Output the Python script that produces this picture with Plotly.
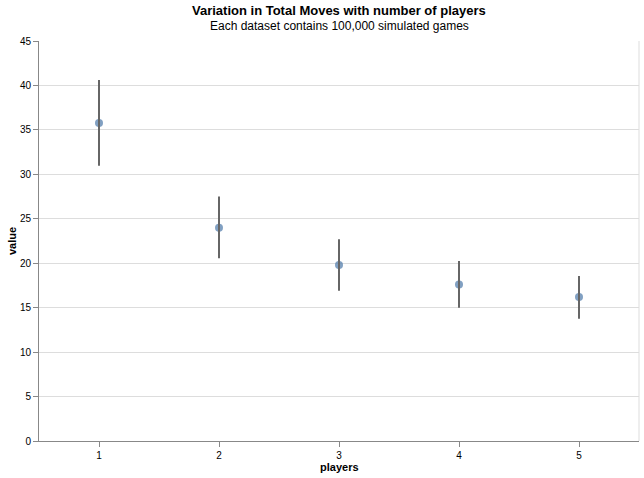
import plotly.graph_objects as go

players = [1, 2, 3, 4, 5]
mean_moves = [35.78, 24.0, 19.8, 17.6, 16.2]
upper = [40.6, 27.5, 22.7, 20.25, 18.55]
lower = [30.97, 20.55, 16.9, 15.0, 13.75]
y_ticks = [0, 5, 10, 15, 20, 25, 30, 35, 40, 45]

err_plus = [u - m for u, m in zip(upper, mean_moves)]
err_minus = [m - l for m, l in zip(mean_moves, lower)]

FONT = "Liberation Sans, Arial, Helvetica, sans-serif"
W, H = 644, 478
# plot area in page pixels: x 39..639, y 41..441
L, R, T, B = 39, 644 - 639, 41, 478 - 441
PW, PH = W - L - R, H - T - B


def px_x(p):
    return (p - L) / PW


def px_y(q):
    return (H - B - q) / PH


fig = go.Figure()
fig.add_trace(go.Scatter(
    x=players, y=mean_moves, mode="markers",
    marker=dict(color="#4c78a8", opacity=0.7, size=8, line=dict(width=0)),
    showlegend=False, hoverinfo="x+y",
))
fig.add_trace(go.Scatter(
    x=players, y=mean_moves, mode="markers",
    marker=dict(opacity=0, size=1),
    error_y=dict(type="data", symmetric=False, array=err_plus, arrayminus=err_minus,
                 width=0, thickness=2, color="#666"),
    showlegend=False, hoverinfo="skip",
))

annotations = [
    dict(text="<b>Variation in Total Moves with number of players</b>",
         x=0.5, y=px_y(10), font=dict(size=13, color="#000")),
    dict(text="Each dataset contains 100,000 simulated games",
         x=0.5, y=px_y(26), font=dict(size=12, color="#000")),
    dict(text="<b>players</b>", x=0.5, y=px_y(467), font=dict(size=11, color="#000")),
    dict(text="<b>value</b>", x=px_x(12), y=px_y(241), textangle=-90,
         font=dict(size=11, color="#000")),
]
for a in annotations:
    a.update(xref="paper", yref="paper", xanchor="center", yanchor="middle",
             showarrow=False)

fig.update_layout(
    width=W, height=H,
    margin=dict(l=L, r=R, t=T, b=B, autoexpand=False),
    paper_bgcolor="white", plot_bgcolor="white",
    font=dict(family=FONT, size=10, color="#000"),
    xaxis=dict(
        range=[0.5, 5.5], tickvals=players, ticktext=[str(p) for p in players],
        showgrid=False, zeroline=False, automargin=False,
        showline=True, linecolor="#888", linewidth=1,
        ticks="outside", ticklen=5, tickcolor="#888",
    ),
    yaxis=dict(
        range=[0, 45], tickvals=y_ticks, automargin=False,
        showgrid=True, gridcolor="#ddd", gridwidth=1, zeroline=False,
        showline=True, linecolor="#888", linewidth=1,
        ticks="outside", ticklen=5, tickcolor="#888",
    ),
    annotations=annotations,
    shapes=[dict(type="line", xref="paper", yref="paper", x0=1, x1=1, y0=0, y1=1,
                 line=dict(color="#ddd", width=1))],
)

fig.write_html("out.html", config={"displayModeBar": False},
               post_script="document.body.style.margin='0';")
